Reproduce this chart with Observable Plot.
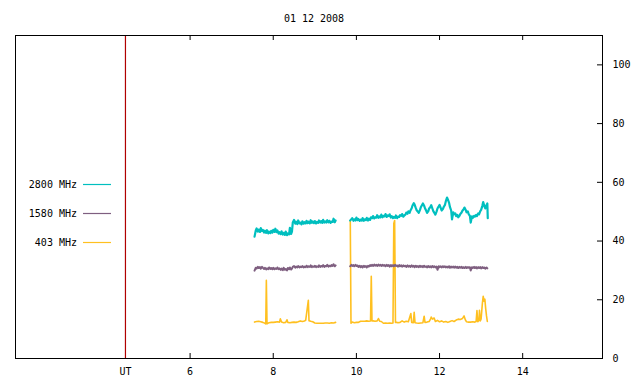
<!DOCTYPE html>
<html>
<head>
<meta charset="utf-8">
<script src="https://cdn.jsdelivr.net/npm/d3@7"></script>
<script src="https://cdn.jsdelivr.net/npm/@observablehq/plot@0.6"></script>
<style>
  html, body { margin: 0; padding: 0; background: #fff; }
</style>
</head>
<body>
<div id="chart"></div>
<script>
const title = "01 12 2008";
const seriesNames = ["2800 MHz", "1580 MHz", "403 MHz"];
const seriesColors = ["#00bfbf", "#7f5f80", "#ffc020"];
const utTime = 4.445;
const utLabel = "UT";
const xTicks = [6, 8, 10, 12, 14];
const yTicks = [0, 20, 40, 60, 80, 100];
const xDomain = [1.8, 15.92];
const yDomain = [0, 110];

// [time (h UT), flux]
const flux2800 = [
  [7.55,41.5],[7.58,43.6],[7.60,44.3],[7.63,43.2],[7.65,43.9],[7.68,43.1],[7.70,44.4],[7.73,43.4],[7.75,43.8],[7.78,42.9],[7.80,43.5],[7.83,42.8],[7.85,43.7],[7.88,42.6],[7.90,43.2],[7.93,42.7],[7.95,43.5],[7.98,42.9],[8.00,43.8],
  [8.03,43.1],[8.05,44.2],[8.08,43.0],[8.10,43.6],[8.13,42.5],[8.15,43.0],[8.18,42.4],[8.20,43.3],[8.23,42.2],[8.25,42.8],[8.28,42.1],[8.30,43.2],[8.33,42.0],[8.35,42.6],[8.38,42.3],[8.40,44.5],[8.43,42.4],[8.45,43.2],
  [8.47,46.3],[8.50,47.2],[8.53,45.9],[8.55,46.6],[8.58,45.8],[8.60,47.0],[8.63,46.0],[8.65,46.3],[8.68,45.7],[8.70,46.7],[8.73,45.9],[8.75,46.4],[8.78,46.0],[8.80,46.9],[8.83,46.1],[8.85,46.6],[8.88,46.0],[8.90,47.1],[8.93,46.2],[8.95,46.7],
  [8.98,46.1],[9.00,46.8],[9.03,46.0],[9.05,46.5],[9.08,46.2],[9.10,47.0],[9.13,46.3],[9.15,46.8],[9.18,46.2],[9.20,47.2],[9.23,46.3],[9.25,46.7],[9.28,46.3],[9.30,47.1],[9.33,46.4],[9.35,46.9],[9.38,46.2],[9.40,46.6],[9.43,46.5],[9.45,47.6],[9.48,46.4],[9.50,47.0],
  [9.65,null],
  [9.85,47.0],[9.88,47.4],[9.90,47.8],[9.93,46.9],[9.95,47.4],[9.98,47.0],[10.00,48.0],[10.03,47.1],[10.05,47.5],[10.08,46.9],[10.10,47.3],[10.13,47.0],[10.15,47.8],[10.18,46.9],[10.20,47.4],[10.23,47.1],[10.25,47.9],[10.28,47.0],[10.30,47.6],
  [10.33,47.2],[10.35,48.1],[10.38,47.8],[10.40,48.5],[10.43,47.7],[10.45,48.1],[10.48,48.0],[10.50,48.8],[10.53,47.9],[10.55,48.4],[10.58,48.1],[10.60,49.0],[10.63,48.1],[10.65,48.6],[10.68,48.4],[10.70,49.2],[10.73,48.2],[10.75,48.7],[10.78,48.5],[10.80,49.1],
  [10.83,48.0],[10.85,48.5],[10.88,47.8],[10.90,48.2],[10.93,47.9],[10.95,48.7],[10.98,47.8],[11.00,48.3],[11.03,48.2],[11.05,48.8],[11.08,48.6],[11.10,49.2],[11.13,48.3],[11.15,48.7],[11.18,49.0],[11.20,49.7],[11.23,49.3],[11.25,50.1],[11.28,49.6],[11.30,50.4],
  [11.33,51.2],[11.35,52.1],[11.38,52.9],[11.40,52.4],[11.43,51.2],[11.45,50.5],[11.48,50.0],[11.50,49.6],[11.53,50.6],[11.55,51.5],[11.58,52.3],[11.60,52.8],[11.63,52.0],[11.65,51.2],[11.68,50.3],[11.70,49.6],[11.73,50.2],[11.75,51.1],[11.78,51.6],[11.80,52.2],
  [11.83,51.0],[11.85,50.2],[11.88,49.5],[11.90,49.0],[11.93,50.1],[11.95,51.1],[11.98,51.8],[12.00,52.3],[12.03,51.2],[12.05,50.4],[12.08,50.9],[12.10,51.6],[12.13,52.3],[12.15,53.5],[12.18,54.8],[12.20,54.2],[12.23,53.0],[12.25,51.6],[12.28,50.4],[12.30,47.4],
  [12.33,49.8],[12.35,49.1],[12.38,49.4],[12.40,48.5],[12.43,48.9],[12.45,48.1],[12.48,48.6],[12.50,49.2],[12.53,49.7],[12.55,50.3],[12.58,50.8],[12.60,51.4],[12.63,50.6],[12.65,49.8],[12.68,50.1],[12.70,49.2],[12.73,48.6],[12.75,46.3],[12.78,48.4],[12.80,47.9],
  [12.83,48.6],[12.85,48.3],[12.88,48.9],[12.90,48.5],[12.93,49.4],[12.95,49.1],[12.98,50.2],[13.00,50.6],[13.03,52.0],[13.05,53.3],[13.08,51.8],[13.10,51.1],[13.13,52.2],[13.15,52.8],[13.16,47.8]
];
const flux1580 = [
  [7.55,29.9],[7.58,30.9],[7.60,30.6],[7.63,31.2],[7.65,30.8],[7.68,31.1],[7.70,30.6],[7.73,31.2],[7.75,30.9],[7.78,30.5],[7.80,30.9],[7.83,30.3],[7.85,30.7],[7.88,30.4],[7.90,31.0],[7.93,30.5],[7.95,30.8],[7.98,30.4],[8.00,30.9],
  [8.03,30.4],[8.05,30.7],[8.08,30.5],[8.10,31.0],[8.13,30.4],[8.15,30.7],[8.18,30.2],[8.20,30.6],[8.23,30.1],[8.25,30.9],[8.28,30.2],[8.30,30.5],[8.33,30.0],[8.35,30.8],[8.38,30.4],[8.40,31.0],[8.43,30.3],[8.45,30.6],
  [8.47,31.2],[8.50,31.5],[8.53,30.9],[8.55,31.3],[8.58,31.0],[8.60,31.5],[8.63,31.0],[8.65,31.3],[8.68,31.1],[8.70,31.5],[8.73,31.0],[8.75,31.3],[8.78,31.1],[8.80,31.6],[8.83,31.1],[8.85,31.4],[8.88,31.2],[8.90,31.7],[8.93,31.1],[8.95,31.4],
  [8.98,31.2],[9.00,31.6],[9.03,31.1],[9.05,31.4],[9.08,31.2],[9.10,31.7],[9.13,31.2],[9.15,31.5],[9.18,31.3],[9.20,31.8],[9.23,31.2],[9.25,31.5],[9.28,31.4],[9.30,31.9],[9.33,31.3],[9.35,31.6],[9.38,31.4],[9.40,31.8],[9.43,31.5],[9.45,32.1],[9.48,31.4],[9.50,31.7],
  [9.65,null],
  [9.85,31.4],[9.88,31.9],[9.90,31.5],[9.93,31.8],[9.95,31.4],[9.98,31.9],[10.00,31.5],[10.03,31.7],[10.05,31.2],[10.08,31.6],[10.10,31.1],[10.13,31.5],[10.15,31.0],[10.18,31.6],[10.20,31.2],[10.23,31.5],[10.25,31.0],[10.28,31.6],[10.30,31.3],
  [10.33,31.8],[10.35,31.5],[10.38,31.9],[10.40,31.5],[10.43,32.0],[10.45,31.6],[10.48,31.9],[10.50,31.5],[10.53,32.0],[10.55,31.6],[10.58,31.9],[10.60,31.5],[10.63,31.9],[10.65,31.6],[10.68,31.8],[10.70,31.4],[10.73,31.9],[10.75,31.5],[10.78,31.8],[10.80,31.3],
  [10.83,31.8],[10.85,31.4],[10.88,31.8],[10.90,31.4],[10.93,31.9],[10.95,31.5],[10.98,31.7],[11.00,31.3],[11.03,31.8],[11.05,31.4],[11.08,31.7],[11.10,31.3],[11.13,31.7],[11.15,31.4],[11.18,31.6],[11.20,31.2],[11.23,31.7],[11.25,31.3],[11.28,31.6],[11.30,31.2],
  [11.33,31.7],[11.35,31.3],[11.38,31.6],[11.40,31.1],[11.43,31.6],[11.45,31.2],[11.48,31.5],[11.50,31.1],[11.53,31.6],[11.55,31.2],[11.58,31.5],[11.60,31.1],[11.63,31.6],[11.65,31.2],[11.68,31.4],[11.70,31.0],[11.73,31.5],[11.75,31.1],[11.78,31.4],[11.80,31.0],
  [11.83,31.5],[11.85,31.1],[11.88,31.4],[11.90,31.0],[11.93,31.3],[11.95,30.2],[11.98,31.4],[12.00,31.1],[12.03,31.4],[12.05,31.0],[12.08,31.4],[12.10,31.1],[12.13,31.4],[12.15,31.0],[12.18,31.3],[12.20,31.0],[12.23,31.4],[12.25,30.9],[12.28,31.3],[12.30,31.0],
  [12.33,31.3],[12.35,30.9],[12.38,31.3],[12.40,30.9],[12.43,31.2],[12.45,30.8],[12.48,31.2],[12.50,30.9],[12.53,31.2],[12.55,30.8],[12.58,31.1],[12.60,30.8],[12.63,31.2],[12.65,30.8],[12.68,31.1],[12.70,30.9],[12.73,31.1],[12.75,30.0],[12.78,31.1],[12.80,30.8],
  [12.83,31.2],[12.85,30.8],[12.88,31.1],[12.90,30.7],[12.93,31.1],[12.95,30.8],[12.98,31.1],[13.00,30.7],[13.03,31.1],[13.05,30.8],[13.08,31.0],[13.10,30.6],[13.13,31.0],[13.15,30.7]
];
const flux403 = [
  [7.55,12.4],[7.60,12.6],[7.65,12.7],[7.70,12.5],[7.75,12.3],[7.80,12.0],[7.82,11.8],[7.834,26.6],[7.85,11.8],[7.90,12.2],
  [7.95,12.3],[8.00,12.3],[8.05,12.4],[8.10,12.5],[8.15,12.4],[8.17,13.5],[8.20,12.4],[8.25,12.2],[8.30,12.3],[8.33,13.2],
  [8.35,12.3],[8.40,12.2],[8.45,12.3],[8.50,12.4],[8.55,12.3],[8.60,12.5],[8.65,12.8],[8.70,12.6],[8.75,12.8],[8.78,13.0],
  [8.844,19.8],[8.86,12.9],[8.90,12.7],[8.95,12.5],[9.00,12.1],[9.05,12.0],[9.10,12.0],[9.15,12.0],[9.20,12.0],[9.25,12.1],
  [9.30,12.1],[9.35,12.0],[9.40,12.2],[9.45,12.1],[9.50,12.3],
  [9.65,null],
  [9.853,47.0],[9.87,12.0],[9.90,12.4],[9.95,12.2],[10.00,12.3],[10.05,12.3],[10.10,12.7],[10.15,12.7],[10.20,12.7],[10.25,12.8],
  [10.30,12.7],[10.34,12.8],[10.358,28.0],[10.375,12.8],[10.40,12.8],[10.45,12.7],[10.50,12.8],[10.53,13.6],[10.56,12.7],[10.60,12.6],
  [10.65,12.0],[10.70,12.1],[10.75,12.0],[10.80,12.1],[10.85,12.0],[10.88,12.1],[10.90,46.0],[10.92,47.0],[10.94,12.3],[10.97,12.3],
  [11.00,12.2],[11.05,12.3],[11.10,12.8],[11.15,12.4],[11.20,12.7],[11.25,12.5],[11.31,15.3],[11.33,12.3],[11.37,12.2],[11.39,15.7],
  [11.41,12.2],[11.45,12.1],[11.50,12.0],[11.55,12.1],[11.60,12.2],[11.63,14.4],[11.65,12.3],[11.70,12.4],[11.75,12.6],[11.78,13.3],
  [11.80,14.1],[11.83,13.4],[11.87,13.8],[11.90,12.6],[11.95,13.0],[12.00,12.5],[12.05,12.8],[12.10,12.4],[12.15,12.6],[12.20,12.3],
  [12.25,12.6],[12.30,12.9],[12.35,12.6],[12.40,13.1],[12.45,13.4],[12.50,13.3],[12.55,13.6],[12.59,14.5],[12.62,13.2],[12.65,12.5],
  [12.70,12.4],[12.75,12.4],[12.80,12.5],[12.85,12.4],[12.88,12.6],[12.90,16.3],[12.92,12.5],[12.95,13.0],[12.96,16.4],[12.98,12.8],
  [13.00,13.5],[13.03,18.7],[13.05,21.2],[13.07,19.5],[13.09,20.2],[13.11,17.0],[13.13,14.5],[13.15,12.6]
];

const W = 640, H = 384, mL = 15, mR = 38, mT = 35, mB = 26;
const frameW = W - mL - mR, frameH = H - mT - mB, tickLen = 5;

function decorations() {
  const g = d3.create("svg:g")
    .attr("font-family", "'DejaVu Sans Mono', monospace")
    .attr("font-size", 10)
    .attr("fill", "black");
  g.append("text").attr("x", 314).attr("y", 18).attr("text-anchor", "middle").attr("dy", "0.35em").text(title);
  seriesNames.forEach((name, i) => {
    const y = 184 + i * 29;
    g.append("text").attr("x", 77).attr("y", y).attr("dy", "0.35em").attr("text-anchor", "end").text(name);
    g.append("path").attr("d", `M83,${y + 0.5}H111`)
      .attr("stroke", seriesColors[i]).attr("stroke-width", 1.2).attr("fill", "none");
  });
  return g.node();
}

const chart = Plot.plot({
  width: W,
  height: H,
  marginLeft: mL,
  marginRight: mR,
  marginTop: mT,
  marginBottom: mB,
  style: {fontFamily: "'DejaVu Sans Mono', monospace", fontSize: "10px", background: "white", color: "black"},
  x: {domain: xDomain},
  y: {domain: yDomain},
  marks: [
    Plot.ruleX([utTime], {stroke: "#b00000", strokeWidth: 1.2}),
    Plot.line(flux403, {x: d => d[0], y: d => d[1], stroke: seriesColors[2], strokeWidth: 1.6}),
    Plot.line(flux1580, {x: d => d[0], y: d => d[1], stroke: seriesColors[1], strokeWidth: 2.0}),
    Plot.line(flux2800, {x: d => d[0], y: d => d[1], stroke: seriesColors[0], strokeWidth: 2.2}),
    Plot.frame({stroke: "black"}),
    Plot.ruleX(xTicks, {x: d => d, stroke: "black", insetBottom: frameH - tickLen}),
    Plot.ruleX(xTicks, {x: d => d, stroke: "black", insetTop: frameH - tickLen}),
    Plot.ruleY(yTicks, {y: d => d, stroke: "black", insetLeft: frameW - tickLen}),
    Plot.axisX([utTime, ...xTicks], {tickSize: 0, tickPadding: 9, tickFormat: d => d === utTime ? utLabel : String(d), fontSize: 10}),
    Plot.axisY(yTicks, {anchor: "right", tickSize: 0, tickPadding: 10, fontSize: 10}),
    decorations
  ]
});
document.getElementById("chart").appendChild(chart);
</script>
</body>
</html>
